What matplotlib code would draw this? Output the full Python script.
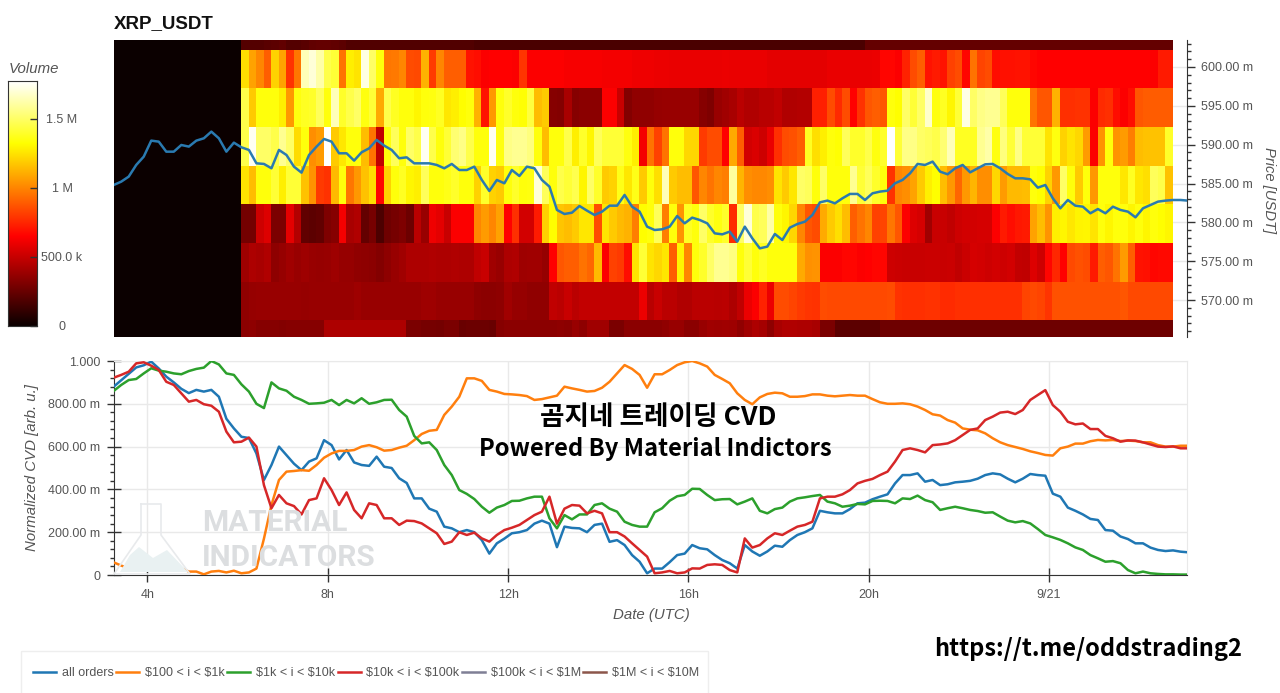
#Imports
import numpy as np
import matplotlib
matplotlib.use('Agg')
import matplotlib.pyplot as plt
from matplotlib.lines import Line2D
from matplotlib.patches import Polygon, Rectangle

W = 1280
H = 693

# Price line, read every 10 min (m USDT)
price = [584.81,585.24,585.89,587.39,588.46,590.52,590.39,589.10,589.10,589.96,589.75,590.52,590.82,591.68,590.82,589.10,590.26,589.66,589.32,587.60,
         587.52,586.96,589.32,588.67,587.17,586.40,588.67,589.75,590.73,590.39,588.89,588.89,587.95,589.02,589.53,590.61,589.88,589.32,588.25,588.37,
         587.60,587.60,587.60,587.39,586.96,587.52,586.74,586.74,587.17,585.46,584.04,585.46,585.03,586.74,585.97,587.17,586.96,585.46,584.60,581.60,
         581.08,581.25,582.11,581.51,580.95,581.38,582.15,582.15,583.53,582.02,581.38,579.45,579.02,579.11,579.45,580.82,579.88,580.61,580.31,579.88,
         578.59,578.46,578.81,577.52,579.45,577.95,576.66,576.88,578.51,577.73,579.32,579.79,580.09,580.95,582.58,582.80,582.45,583.10,583.66,583.66,
         582.88,583.74,583.96,584.08,585.03,585.46,586.31,587.52,587.39,587.82,586.53,586.19,586.96,587.39,586.44,586.96,587.47,587.52,586.96,586.23,
         585.67,585.67,585.54,584.47,584.81,583.10,581.81,582.88,582.15,582.02,581.17,581.72,581.17,582.02,581.60,581.38,580.65,581.81,582.24,582.67,
         582.80,582.88,582.88,582.80]

# Normalized CVD series, read every 10 min
cvd_all = [.880,.910,.940,.970,.980,.997,.965,.927,.900,.870,.850,.865,.857,.865,.833,.730,.685,.646,.640,.568,
           .444,.514,.600,.560,.520,.490,.530,.545,.630,.607,.540,.584,.526,.514,.510,.553,.506,.500,.452,.430,
           .358,.358,.310,.296,.226,.218,.200,.210,.200,.163,.100,.148,.170,.195,.200,.210,.240,.254,.240,.130,
           .226,.220,.218,.200,.234,.240,.155,.163,.140,.093,.062,.008,.030,.030,.060,.093,.100,.140,.125,.120,
           .093,.070,.055,.030,.140,.110,.090,.110,.137,.132,.163,.187,.200,.218,.300,.293,.288,.288,.308,.335,
           .338,.354,.366,.377,.428,.467,.467,.475,.436,.444,.420,.424,.433,.436,.440,.450,.467,.475,.470,.450,
           .433,.450,.472,.467,.464,.380,.366,.315,.300,.283,.262,.257,.210,.207,.180,.168,.148,.148,.128,.117,
           .112,.115,.109,.106]
cvd_100 = [.059,.044,.031,.028,.031,.031,.034,.039,.047,.031,.016,.016,.003,.016,.019,.012,.020,.008,.012,.030,
           .170,.327,.444,.483,.486,.490,.487,.514,.548,.568,.580,.580,.584,.600,.607,.597,.581,.584,.595,.604,
           .630,.659,.674,.678,.748,.787,.833,.919,.919,.907,.865,.857,.846,.844,.841,.836,.818,.822,.830,.838,
           .880,.872,.865,.857,.860,.875,.903,.942,.981,.963,.935,.875,.938,.938,.958,.981,.994,1.00,.989,.974,
           .935,.916,.896,.849,.818,.798,.830,.846,.852,.849,.833,.833,.836,.844,.844,.838,.835,.838,.841,.838,
           .838,.822,.807,.800,.800,.802,.798,.787,.771,.751,.745,.724,.712,.685,.679,.676,.662,.639,.620,.607,
           .598,.589,.578,.570,.561,.558,.592,.600,.614,.614,.625,.631,.629,.631,.626,.628,.626,.620,.620,.607,
           .600,.600,.604,.604]
cvd_1k = [.860,.888,.911,.916,.942,.966,.955,.950,.942,.938,.953,.963,.969,1.00,.984,.942,.935,.891,.857,.800,
          .780,.900,.872,.861,.833,.818,.800,.802,.805,.818,.794,.818,.802,.826,.800,.807,.818,.819,.771,.740,
          .650,.615,.620,.584,.514,.467,.397,.379,.355,.319,.291,.315,.327,.346,.347,.358,.366,.366,.265,.218,
          .280,.260,.283,.283,.327,.335,.310,.296,.249,.234,.226,.226,.293,.312,.347,.368,.374,.403,.402,.374,
          .350,.354,.355,.330,.343,.358,.300,.288,.308,.315,.343,.358,.363,.369,.374,.343,.335,.319,.324,.332,
          .330,.346,.347,.346,.335,.358,.355,.371,.350,.340,.304,.312,.319,.312,.304,.299,.291,.293,.273,.254,
          .246,.252,.241,.215,.187,.176,.164,.148,.129,.117,.093,.078,.062,.065,.055,.023,.008,.016,.008,.005,
          .003,.003,.002,.002]
cvd_10k = [.922,.935,.950,.989,.994,.978,.958,.903,.888,.849,.810,.818,.798,.791,.763,.670,.620,.623,.642,.600,
           .420,.312,.374,.335,.322,.283,.350,.358,.452,.397,.327,.386,.304,.265,.335,.327,.265,.265,.234,.254,
           .252,.241,.218,.195,.145,.156,.200,.187,.198,.171,.156,.187,.210,.221,.234,.257,.280,.296,.366,.240,
           .310,.327,.324,.288,.300,.288,.200,.200,.180,.148,.117,.086,.008,.012,.019,.008,.012,.031,.030,.047,
           .050,.047,.023,.012,.171,.128,.140,.171,.195,.187,.207,.226,.234,.249,.358,.366,.366,.377,.397,.428,
           .440,.449,.467,.483,.530,.584,.592,.584,.573,.607,.610,.615,.630,.654,.678,.685,.724,.740,.759,.763,
           .752,.771,.818,.841,.864,.794,.763,.716,.704,.708,.682,.682,.650,.639,.623,.629,.628,.620,.610,.600,
           .598,.601,.592,.592]

# Heatmap volume by price row (k USDT), 124 ten minute columns from top to bottom row
vol_top = [200,200,200,210,220,230,200,200,210,230,240,240,230,220] + [190]*17 + [170]*52 + [240]*41
vol_602 = [1240,1080,1000,900,1200,1080,780,960,1650,1700,1620,1450,1420,950,1280,1250,1720,1500,1340,960,970,1000,850,840,1120,800,1000,900,900,900,700,680,
           640,650,650,650,640,790,640,640,640,640,640,630,630,630,630,630,620,620,620,620,610,610,610,600,600,590,590,590,590,
           590,590,590,600,590,590,590,590,590,580,580,580,580,580,580,580,580,590,590,590,590,590,590,600,
           660,660,640,740,850,900,700,720,
           700,820,850,660,950,830,850,680,690,690,700,700,660,650,650,650,650,650,650,650,650,650,650,650,650,650,650,650,640,720,720]
vol_597 = [1450,1180,1340,1340,1340,1280,1050,1350,1380,1400,1480,1340,1650,1400,1450,1500,1350,1420,1100,1450,1380,1340,1340,1300,1340,1350,1380,1260,1280,1320,1340,
           1120,700,1050,1340,1400,1340,1330,1430,1150,1180,330,320,420,330,340,340,340,640,640,500,320,360,360,360,370,380,380,380,380,380,
           330,310,380,400,420,470,440,440,460,460,480,440,440,450,450,730,730,850,760,850,650,780,880,900,880,1340,1320,1500,1420,1500,1680,1350,
           1380,1300,1420,1720,1500,1560,1580,1580,1480,1340,1340,1340,950,880,880,1120,770,770,780,780,640,760,770,680,640,680,880,890,890,890,890]
vol_592 = [1450,1750,1500,1500,1450,1580,1500,1230,1340,1020,1060,1780,1180,1260,1340,1340,1150,950,480,1340,1480,1340,1500,1450,1750,1450,1340,1420,1520,1560,1450,
           1340,1340,1750,1350,1560,1580,1580,1540,1340,1150,1340,1340,1450,1280,1400,1300,1480,1420,1420,1420,1350,1280,620,950,820,950,1340,1340,1220,1220,
           800,850,850,650,1100,900,530,550,520,590,770,850,860,900,1380,1240,1280,1340,1330,1480,1400,1400,1450,1350,1400,1780,1420,1560,1560,1500,1480,1450,
           1520,1650,1380,1380,1380,1580,1620,1350,1540,1420,1560,1420,1420,1420,1250,1350,1200,1250,1220,1060,640,1040,1340,1040,1060,980,1150,1160,1160,1160,1400]
vol_587 = [1250,1150,1340,1340,1420,1280,1420,1420,1160,1040,800,780,1140,1340,960,1050,1160,1240,660,1200,1340,1380,1300,1280,1480,1340,1340,1360,1400,1340,1340,
           1200,1400,1200,1180,1340,1400,1340,1350,1700,1480,1340,1450,1420,1460,1300,1500,1400,1180,1200,1360,1260,1360,1180,1340,1240,1650,1180,1150,1150,880,
           1000,950,1000,980,1600,1130,1020,1010,1010,1020,1250,1180,1260,1500,1480,1340,1500,1340,1340,1340,1580,1420,1480,1400,1340,780,1000,1020,1080,1180,1280,1320,
           1150,1050,920,1050,1130,1020,1020,1220,1060,1140,1140,1150,1340,1320,1200,1050,1500,1340,1180,1340,1050,1340,1340,1340,1260,1380,1260,1240,1480,1450,1160]
vol_582 = [280,280,520,560,300,300,580,450,230,220,230,310,330,620,420,440,240,290,180,270,290,310,260,470,380,610,580,500,640,640,640,
           1000,1060,1000,1080,650,770,530,530,720,1200,1320,1170,1150,1180,1260,1260,850,1250,1180,1140,1120,980,1320,1340,1480,980,1340,1040,1380,1340,
           1500,1400,1350,1400,760,1500,1700,1450,1480,1620,1340,1300,1220,1000,880,850,1100,1180,1240,1150,900,950,1000,820,830,960,880,640,560,540,400,500,
           500,480,520,530,530,540,540,640,720,680,710,720,1080,1150,1040,1280,1300,1260,1290,1300,1250,1340,1300,1340,1340,1300,1340,1300,1340,1320,1300]
vol_577 = [390,430,420,440,350,370,400,380,390,380,370,380,390,370,370,360,350,340,320,350,380,400,430,430,430,440,430,430,440,430,430,
           480,500,400,380,430,440,390,400,400,370,650,880,900,900,950,920,1140,640,820,800,680,1250,1420,1250,1220,1260,900,1300,1000,1340,
           1400,1500,1580,1580,1550,1340,1420,1340,1380,1340,1340,1340,1340,1100,1030,1040,640,640,640,660,660,640,650,660,660,520,510,500,500,500,510,510,
           500,510,480,510,540,530,520,530,520,530,490,480,560,520,660,750,650,840,860,850,720,900,880,950,1060,900,700,690,660,670,670]
vol_572 = [360,370,380,380,380,380,380,380,370,380,380,380,380,380,380,390,380,380,380,380,380,380,380,380,390,390,380,380,380,380,380,
           350,340,340,350,400,370,370,360,360,360,480,470,500,470,490,490,490,490,490,490,490,490,600,460,500,470,470,440,440,470,
           470,470,460,470,430,480,600,640,740,600,850,850,830,800,790,780,850,840,840,840,840,840,840,840,840,850,780,770,770,770,780,780,
           760,760,770,770,770,770,770,770,770,770,770,830,840,830,790,860,860,860,860,860,860,860,860,860,880,840,840,840,840,840,840]
vol_bot = [340,350,330,330,330,320,330,330,330,330,330] + [430]*11 + [300,300,290,290,280,300,300,250,260,
           260,260,250,330,340,340,340,340,340,340,340,350,340,380,350,400,400,400,300,300,
           340,340,340,340,340,360,380,380,340,340,380,
           400,390,400,390,360,400,430,410,350,420,440,440,430,430,420,300,300,220,220,220,220,220,220] + [270]*39

price_edges = [565, 567.42, 572.33, 577.33, 582.35, 587.28, 592.28, 597.3, 602.2, 604]
y_ticks_price = [570, 575, 580, 585, 590, 595, 600]
y_ticks_cvd = [0, .2, .4, .6, .8, 1.0]
y_labels_cvd = ['0', '200.00 m', '400.00 m', '600.00 m', '800.00 m', '1.000']
x_ticks = [4, 8, 12, 16, 20, 24]
x_labels = ['4h', '8h', '12h', '16h', '20h', '9/21']
legend_labels = ['all orders', r'\$100 < i < \$1k', r'\$1k < i < \$10k', r'\$10k < i < \$100k', r'\$100k < i < \$1M', r'\$1M < i < \$10M']
legend_colors = ['#1f77b4', '#ff7f0e', '#2ca02c', '#d62728', '#7f7f95', '#8c564b']

vol_rows = [vol_bot, vol_572, vol_577, vol_582, vol_587, vol_592, vol_597, vol_602, vol_top]

plt.rcParams['font.family'] = ['Liberation Sans', 'DejaVu Sans']
GREY = '#555555'
GRID = '#e9e9e9'
XMIN, XMAX = 3.257, 27.06
CVD_T = 3.25 + np.arange(len(price)) / 6


def box(x0, y0, x1, y1):
    # pixels with the origin top left to a figure rectangle
    return [x0 / W, 1 - y1 / H, (x1 - x0) / W, (y1 - y0) / H]


fig = plt.figure(figsize=(W / 100, H / 100), dpi=100, facecolor='white')

# Heatmap with price line
ax1 = fig.add_axes(box(114, 40, 1187, 337))
volume = np.array(vol_rows, dtype=float) * 1000
volume = np.hstack([np.zeros((volume.shape[0], 17)), volume])
col_edges = 3.242 + np.arange(volume.shape[1] + 1) / 6
mesh = ax1.pcolormesh(col_edges, price_edges, volume, cmap='hot', vmin=0, vmax=1.775e6, shading='flat', zorder=2)
ax1.plot(CVD_T, price, color='#2a7ab0', lw=1.8, zorder=3)
ax1.set_xlim(XMIN, XMAX)
ax1.set_ylim(565.25, 603.47)
ax1.set_xticks([])
ax1.yaxis.tick_right()
ax1.set_yticks(y_ticks_price)
ax1.set_yticklabels(['%.2f m' % v for v in y_ticks_price], color=GREY, fontsize=9)
ax1.set_yticks(np.arange(566, 604), minor=True)
ax1.tick_params(axis='y', which='major', direction='out', length=6, width=1, color='#333333', pad=4)
ax1.tick_params(axis='y', which='minor', direction='out', length=3, width=1, color='#333333')
ax1.grid(axis='y', color=GRID, lw=1, zorder=1)
for s in ['left', 'top', 'bottom']:
    ax1.spines[s].set_visible(False)
ax1.spines['right'].set_color('#333333')
fig.text(114 / W, 1 - 24 / H, 'XRP_USDT', fontsize=13.5, fontweight='bold', color='#111111', va='center')
fig.text(1269 / W, 1 - 190 / H, 'Price [USDT]', rotation=270, style='italic', fontsize=10.6, color=GREY, ha='center', va='center')

# Colorbar
cax = fig.add_axes(box(8, 81, 37, 326))
gradient = np.linspace(0, 1.775e6, 256).reshape(-1, 1)
cax.imshow(gradient, cmap='hot', origin='lower', aspect='auto', extent=[0, 1, 0, 1.775e6], vmin=0, vmax=1.775e6)
cax.set_xticks([])
cax.yaxis.tick_right()
cax.set_yticks([0, 5e5, 1e6, 1.5e6])
cax.set_yticklabels(['0', '500.0 k', '1 M', '1.5 M'], color=GREY, fontsize=9, ha='center')
cax.tick_params(axis='y', direction='in', length=5, width=1, color='#333333', pad=18)
for s in cax.spines.values():
    s.set_color('#333333')
fig.text(9 / W, 1 - 69 / H, 'Volume', style='italic', fontsize=10.8, color=GREY, va='center')

# CVD lines
ax2 = fig.add_axes(box(114, 361, 1187, 575))
ax2.plot(CVD_T, cvd_all, color=legend_colors[0], lw=1.8, zorder=4)
ax2.plot(CVD_T, cvd_100, color=legend_colors[1], lw=1.8, zorder=4)
ax2.plot(CVD_T, cvd_1k, color=legend_colors[2], lw=1.8, zorder=4)
ax2.plot(CVD_T, cvd_10k, color=legend_colors[3], lw=1.8, zorder=4)
ax2.set_xlim(XMIN, XMAX)
ax2.set_ylim(0, 1.0)
ax2.set_xticks(x_ticks)
ax2.set_xticklabels(x_labels, color=GREY, fontsize=9)
ax2.set_yticks(y_ticks_cvd)
ax2.set_yticklabels(y_labels_cvd, color=GREY, fontsize=9)
ax2.set_yticks(np.arange(0, 1.001, .04), minor=True)
ax2.tick_params(axis='x', direction='inout', length=10, width=1, color='#333333', pad=5)
ax2.tick_params(axis='y', which='major', direction='inout', length=10, width=1, color='#333333', pad=5)
ax2.tick_params(axis='y', which='minor', direction='out', length=3, width=1, color='#333333')
ax2.grid(color=GRID, lw=1, zorder=0)
ax2.set_axisbelow(True)
ax2.spines['left'].set_color('#333333')
ax2.spines['bottom'].set_color('#333333')
ax2.spines['top'].set_color(GRID)
ax2.spines['right'].set_color(GRID)
fig.text(32 / W, 1 - 468 / H, 'Normalized CVD [arb. u.]', rotation=90, style='italic', fontsize=10.8, color=GREY, ha='center', va='center')
fig.text(651 / W, 1 - 615 / H, 'Date (UTC)', style='italic', fontsize=10.8, color=GREY, ha='center', va='center')

# Watermark, flask and name
flask = [(141, 504), (161, 504), (161, 535), (190, 574), (114, 574), (141, 535), (141, 504)]
fig.add_artist(Line2D([p[0] / W for p in flask], [1 - p[1] / H for p in flask], color='#e8eaec', lw=1.2, zorder=1))
hill = [(120, 572), (130, 555), (139, 547), (153, 558), (167, 550), (188, 572)]
fig.add_artist(Polygon([(p[0] / W, 1 - p[1] / H) for p in hill], closed=True, facecolor='#e9f1f2', edgecolor='none', zorder=1))
fig.text(202 / W, 1 - 523 / H, 'MATERIAL', family='Roboto', fontsize=21.5, fontweight='bold', color='#dcdee0', va='center', zorder=1)
fig.text(202 / W, 1 - 558 / H, 'INDICATORS', family='Roboto', fontsize=21.5, fontweight='bold', color='#dcdee0', va='center', zorder=1)

# Overlaid captions
cjk = ['Noto Sans CJK KR', 'DejaVu Sans']
fig.text(658 / W, 1 - 417 / H, '곰지네 트레이딩 CVD', family=cjk, fontsize=19.2, fontweight='bold', color='black', ha='center', va='center', zorder=6)
fig.text(655 / W, 1 - 449 / H, 'Powered By Material Indictors', family=cjk, fontsize=17.1, fontweight='bold', color='black', ha='center', va='center', zorder=6)
fig.text(1088 / W, 1 - 649 / H, 'https://t.me/oddstrading2', family=cjk, fontsize=17, fontweight='bold', color='black', ha='center', va='center', zorder=6)

# Legend, box runs off the bottom of the picture
fig.add_artist(Rectangle((21 / W, 1 - 700 / H), 687 / W, 49 / H, facecolor='white', edgecolor='#eeeeee', lw=1, transform=fig.transFigure))
handles = [Line2D([0], [0], color=c, lw=1.8) for c in legend_colors]
leg = fig.legend(handles, legend_labels, ncol=6, loc='center left', bbox_to_anchor=(33 / W, 1 - 673 / H),
                 frameon=False, fontsize=9, labelcolor=GREY, borderpad=0, borderaxespad=0,
                 columnspacing=0.2, handlelength=1.85, handletextpad=0.45)

fig.savefig('out.png', dpi=100)
